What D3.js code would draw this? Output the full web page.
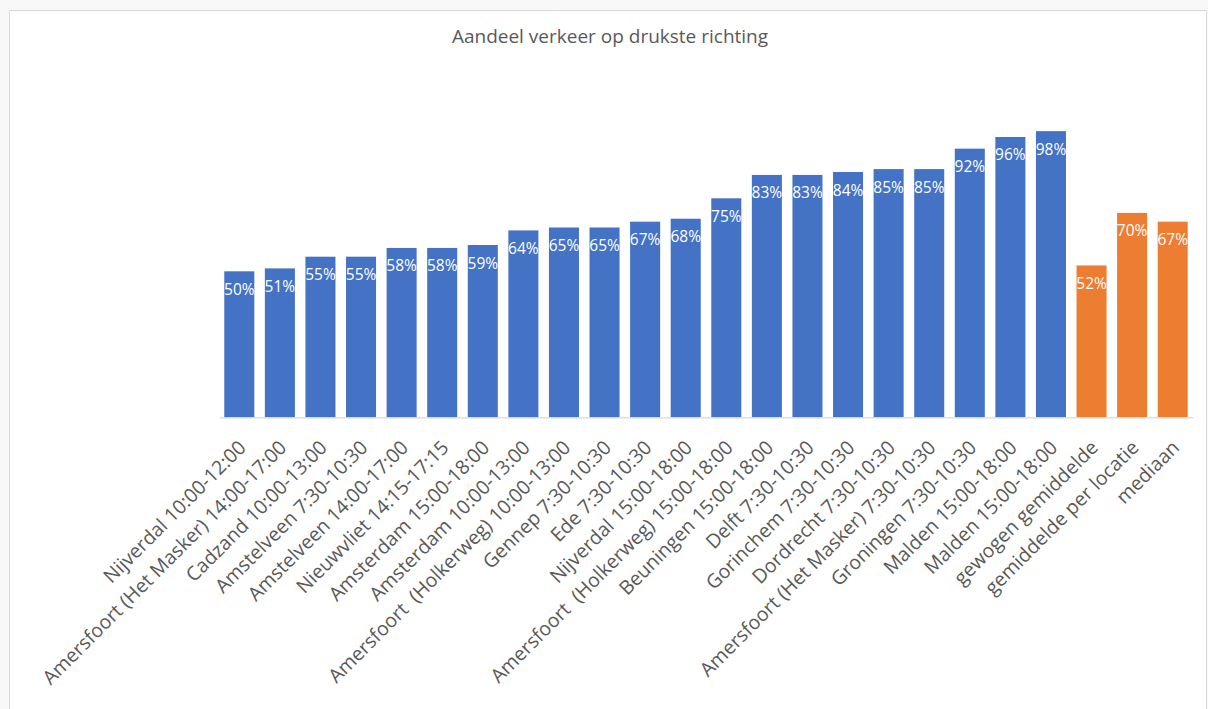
<!DOCTYPE html>
<html>
<head>
<meta charset="utf-8">
<script src="https://cdn.jsdelivr.net/npm/d3@7"></script>
<style>
  html, body { margin: 0; padding: 0; background: #f8f8f8; }
  svg { display: block; }
</style>
</head>
<body>
<svg id="chart" width="1208" height="709"></svg>
<script>
const title = "Aandeel verkeer op drukste richting";
const categories = [
  "Nijverdal 10:00-12:00",
  "Amersfoort (Het Masker) 14:00-17:00",
  "Cadzand 10:00-13:00",
  "Amstelveen 7:30-10:30",
  "Amstelveen 14:00-17:00",
  "Nieuwvliet 14:15-17:15",
  "Amsterdam 15:00-18:00",
  "Amsterdam 10:00-13:00",
  "Amersfoort  (Holkerweg) 10:00-13:00",
  "Gennep 7:30-10:30",
  "Ede 7:30-10:30",
  "Nijverdal 15:00-18:00",
  "Amersfoort  (Holkerweg) 15:00-18:00",
  "Beuningen 15:00-18:00",
  "Delft 7:30-10:30",
  "Gorinchem 7:30-10:30",
  "Dordrecht 7:30-10:30",
  "Amersfoort (Het Masker) 7:30-10:30",
  "Groningen 7:30-10:30",
  "Malden 15:00-18:00",
  "Malden 15:00-18:00 ",
  "gewogen gemiddelde",
  "gemiddelde per locatie",
  "mediaan"
];
const values = [0.50, 0.51, 0.55, 0.55, 0.58, 0.58, 0.59, 0.64, 0.65, 0.65, 0.67, 0.68,
                0.75, 0.83, 0.83, 0.84, 0.85, 0.85, 0.92, 0.96, 0.98, 0.52, 0.70, 0.67];
const summaryCategories = ["gewogen gemiddelde", "gemiddelde per locatie", "mediaan"];
const yDomain = [0, 1.2];

const svg = d3.select("#chart");
const FONT = "'Open Sans', 'Noto Sans', sans-serif";
const TEXT = "#595959";

// chart frame
svg.append("rect").attr("x", 9.5).attr("y", 10.5).attr("width", 1197).attr("height", 720)
  .attr("fill", "#ffffff").attr("stroke", "#d9d9d9").attr("stroke-width", 1);

const x = d3.scaleBand().domain(categories).range([219, 1193]).paddingInner(0.26).paddingOuter(0.13);
const y = d3.scaleLinear().domain(yDomain).range([417.3, 66.9]);

svg.append("text").attr("x", 610).attr("y", 43).attr("text-anchor", "middle")
  .attr("font-family", FONT).attr("font-size", 19).attr("fill", TEXT).text(title);

const data = categories.map((c, i) => ({ c, v: values[i] }));

svg.append("g").selectAll("rect").data(data).join("rect")
  .attr("x", d => x(d.c)).attr("width", x.bandwidth())
  .attr("y", d => y(d.v)).attr("height", d => y(0) - y(d.v))
  .attr("fill", d => summaryCategories.includes(d.c) ? "#ed7d31" : "#4472c4");

svg.append("g").selectAll("text").data(data).join("text")
  .attr("x", d => x(d.c) + x.bandwidth() / 2)
  .attr("y", d => y(d.v) + 23.5)
  .attr("text-anchor", "middle").attr("font-family", FONT).attr("font-size", 15.5)
  .attr("fill", "#ffffff").text(d => d3.format(".0%")(d.v));

// baseline axis
const axis = svg.append("g").attr("transform", `translate(0,${y(0)})`)
  .call(d3.axisBottom(x).tickSize(0).tickFormat(""));
axis.select(".domain").attr("stroke", "#d9d9d9").attr("stroke-width", 1.2);

svg.append("g").selectAll("text").data(categories).join("text")
  .attr("transform", d => `translate(${x(d) + x.bandwidth() / 2 - 2},439) rotate(-45)`)
  .attr("dy", "0.71em").attr("text-anchor", "end")
  .style("white-space", "pre")
  .attr("font-family", FONT).attr("font-size", 19.5).attr("fill", TEXT)
  .text(d => d.trim());
</script>
</body>
</html>
